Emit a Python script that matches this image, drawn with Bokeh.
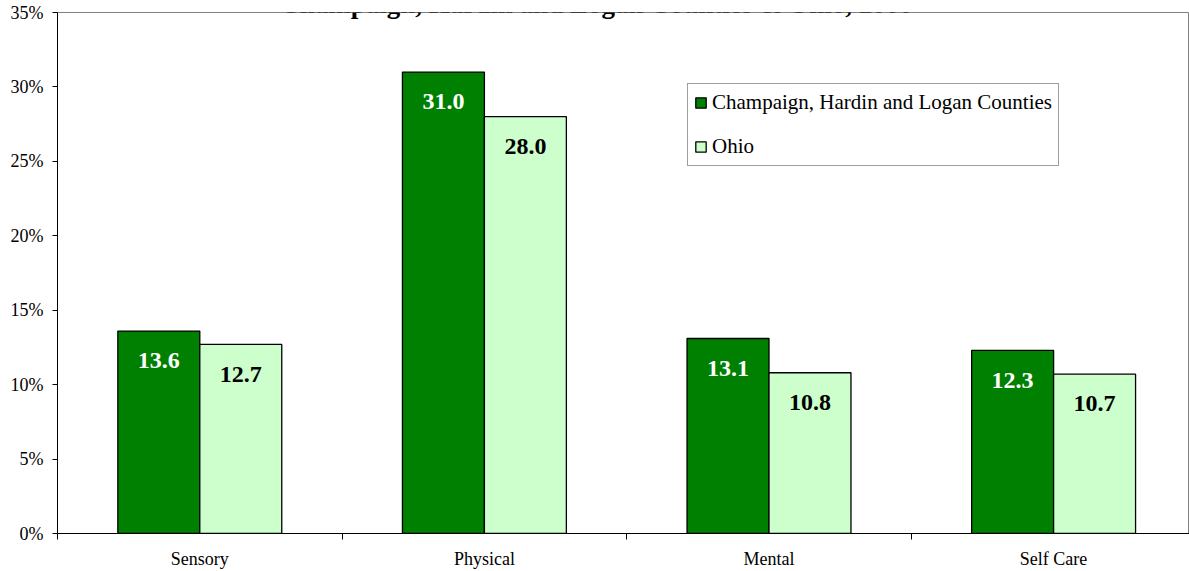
from bokeh.plotting import figure
from bokeh.models import (Range1d, FixedTicker, PrintfTickFormatter, Legend, LegendItem,
                          Label, ColumnDataSource)
from bokeh.core.properties import value
from bokeh.embed import file_html
from bokeh.resources import INLINE

# ---- data ----
categories = ["Sensory", "Physical", "Mental", "Self Care"]
counties = [13.6, 31.0, 13.1, 12.3]
ohio = [12.7, 28.0, 10.8, 10.7]
series_names = ["Champaign, Hardin and Logan Counties", "Ohio"]
y_ticks = [0, 5, 10, 15, 20, 25, 30, 35]
title_text = "Champaign, Hardin and Logan Counties & Ohio, 2000"

DARK = "#008000"
LIGHT = "#CCFFCC"
SERIF = "Liberation Serif"

W, H = 1197, 579
p = figure(width=W, height=H, output_backend="svg", toolbar_location=None,
           x_range=Range1d(0, 3.9775), y_range=Range1d(0, 35),
           min_border_left=65, min_border_right=0, min_border_top=20, min_border_bottom=38)
p.styles = {"margin-top": "-8px", "margin-left": "-8px"}
p.background_fill_color = "white"
p.border_fill_color = "white"
p.outline_line_color = "#808080"
p.outline_line_width = 1
p.grid.visible = False

bw = 0.288
centers = [i + 0.5 for i in range(len(categories))]
x_c = [c - bw / 2 for c in centers]
x_o = [c + bw / 2 for c in centers]

src_c = ColumnDataSource(dict(x=x_c, top=counties, lab=[f"{v:.1f}" for v in counties],
                              ly=[v - 2.0 for v in counties]))
src_o = ColumnDataSource(dict(x=x_o, top=ohio, lab=[f"{v:.1f}" for v in ohio],
                              ly=[v - 2.0 for v in ohio]))

r1 = p.vbar(x="x", top="top", width=bw, bottom=0, source=src_c,
            fill_color=DARK, line_color="black", line_width=1.3)
r2 = p.vbar(x="x", top="top", width=bw, bottom=0, source=src_o,
            fill_color=LIGHT, line_color="black", line_width=1.3)

p.text(x="x", y="ly", text="lab", source=src_c, text_color="white",
       text_font=value(SERIF), text_font_style="bold", text_font_size="24px",
       text_align="center", text_baseline="middle")
p.text(x="x", y="ly", text="lab", source=src_o, text_color="black",
       text_font=value(SERIF), text_font_style="bold", text_font_size="24px",
       text_align="center", text_baseline="middle")

# x axis: labels at category centres, ticks at category boundaries
xa = p.xaxis[0]
xa.ticker = FixedTicker(ticks=centers, minor_ticks=[0, 1, 2, 3, 4])
xa.major_label_overrides = {c: cat for c, cat in zip(centers, categories)}
xa.major_tick_out = 0
xa.major_tick_in = 0
xa.minor_tick_out = 6
xa.minor_tick_in = 0
xa.minor_tick_line_color = "black"
xa.axis_line_color = "black"
xa.major_label_text_font = SERIF
xa.major_label_text_font_size = "18px"
xa.major_label_text_color = "black"
xa.major_label_standoff = 9

ya = p.yaxis[0]
ya.ticker = FixedTicker(ticks=y_ticks)
ya.formatter = PrintfTickFormatter(format="%d%%")
ya.minor_tick_line_color = None
ya.major_tick_out = 5
ya.major_tick_in = 0
ya.axis_line_color = "black"
ya.major_tick_line_color = "black"
ya.major_label_text_font = SERIF
ya.major_label_text_font_size = "18px"
ya.major_label_text_color = "black"
ya.major_label_standoff = 9

legend = Legend(items=[LegendItem(label=series_names[0], renderers=[r1]),
                       LegendItem(label=series_names[1], renderers=[r2])],
                location=(630, 367), orientation="vertical",
                glyph_width=13, glyph_height=13, label_standoff=5,
                label_height=21, spacing=19, padding=6, margin=0,
                label_text_font=SERIF, label_text_font_size="21px",
                label_text_color="black",
                border_line_color="#404040", border_line_width=1,
                background_fill_color="white", background_fill_alpha=1)
p.add_layout(legend, "center")

title = Label(x=(596 - 57) / 284.6, y=35 + 8.5 / 14.886, text=title_text,
              text_font=SERIF, text_font_style="bold", text_font_size="27px",
              text_align="center", text_baseline="alphabetic", text_color="black")
p.add_layout(title)

open("out.html", "w").write(file_html(p, INLINE))
